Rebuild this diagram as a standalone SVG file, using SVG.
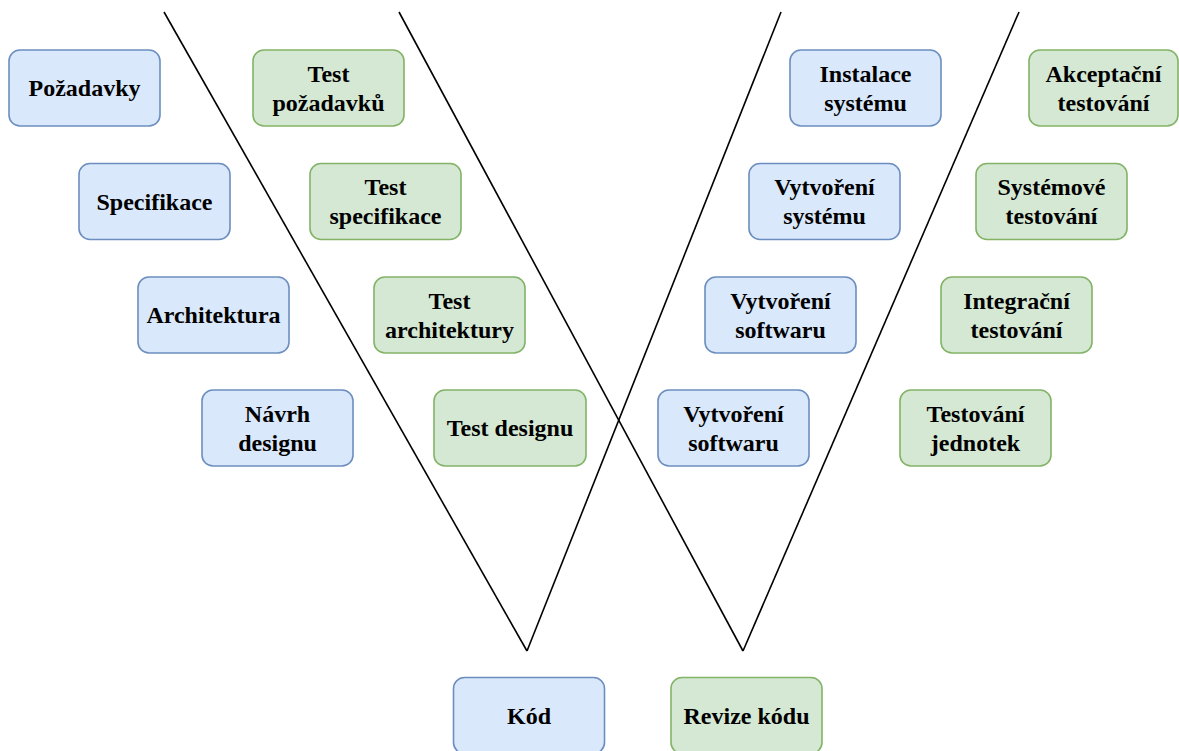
<svg xmlns="http://www.w3.org/2000/svg" width="1179" height="751" viewBox="0 0 1179 751">
<style>
.b rect{fill:#dae8fc;stroke:#6c8ebf;stroke-width:1.6}
.g rect{fill:#d5e8d4;stroke:#82b366;stroke-width:1.6}
text{font-family:"Liberation Serif","Times New Roman",serif;font-weight:bold;font-size:24px;text-anchor:middle;fill:#000}
.c line{stroke:#000;stroke-width:1.6}
</style>
<rect width="1179" height="751" fill="#fff"/>
<g class="c" id="connectors">
<line x1="164" y1="12" x2="527" y2="651"/>
<line x1="399" y1="12" x2="743" y2="651"/>
<line x1="781" y1="12" x2="527" y2="651"/>
<line x1="1019" y1="12" x2="743" y2="651"/>
</g>
<g id="pozadavky" class="b"><rect x="9" y="50" width="151" height="76" rx="11"/><text x="84.5" y="96">Požadavky</text></g>
<g id="specifikace" class="b"><rect x="79" y="163.5" width="151" height="76" rx="11"/><text x="154.5" y="209.5">Specifikace</text></g>
<g id="architektura" class="b"><rect x="138" y="277" width="151" height="76" rx="11"/><text x="213.5" y="323">Architektura</text></g>
<g id="navrh" class="b"><rect x="202" y="390" width="151" height="76" rx="11"/><text x="277.5" y="421.5">Návrh</text><text x="277.5" y="450.5">designu</text></g>
<g id="test-pozadavku" class="g"><rect x="253" y="50" width="151" height="76" rx="11"/><text x="328.5" y="81.5">Test</text><text x="328.5" y="110.5">požadavků</text></g>
<g id="test-specifikace" class="g"><rect x="310" y="163.5" width="151" height="76" rx="11"/><text x="385.5" y="195">Test</text><text x="385.5" y="224">specifikace</text></g>
<g id="test-architektury" class="g"><rect x="374" y="277" width="151" height="76" rx="11"/><text x="449.5" y="308.5">Test</text><text x="449.5" y="337.5">architektury</text></g>
<g id="test-designu" class="g"><rect x="434" y="390" width="152" height="76" rx="11"/><text x="510" y="436">Test designu</text></g>
<g id="kod" class="b"><rect x="453.5" y="677.5" width="151" height="76" rx="11"/><text x="529" y="723.5">Kód</text></g>
<g id="revize" class="g"><rect x="671" y="677.5" width="151" height="76" rx="11"/><text x="746.5" y="723.5">Revize kódu</text></g>
<g id="instalace" class="b"><rect x="790" y="50" width="151" height="76" rx="11"/><text x="865.5" y="81.5">Instalace</text><text x="865.5" y="110.5">systému</text></g>
<g id="vytvoreni-systemu" class="b"><rect x="749" y="163.5" width="151" height="76" rx="11"/><text x="824.5" y="195">Vytvoření</text><text x="824.5" y="224">systému</text></g>
<g id="vytvoreni-softwaru-1" class="b"><rect x="705" y="277" width="151" height="76" rx="11"/><text x="780.5" y="308.5">Vytvoření</text><text x="780.5" y="337.5">softwaru</text></g>
<g id="vytvoreni-softwaru-2" class="b"><rect x="658" y="390" width="151" height="76" rx="11"/><text x="733.5" y="421.5">Vytvoření</text><text x="733.5" y="450.5">softwaru</text></g>
<g id="akceptacni" class="g"><rect x="1029" y="50" width="149" height="76" rx="11"/><text x="1103.5" y="81.5">Akceptační</text><text x="1103.5" y="110.5">testování</text></g>
<g id="systemove" class="g"><rect x="976" y="163.5" width="151" height="76" rx="11"/><text x="1051.5" y="195">Systémové</text><text x="1051.5" y="224">testování</text></g>
<g id="integracni" class="g"><rect x="941" y="277" width="151" height="76" rx="11"/><text x="1016.5" y="308.5">Integrační</text><text x="1016.5" y="337.5">testování</text></g>
<g id="jednotky" class="g"><rect x="900" y="390" width="151" height="76" rx="11"/><text x="975.5" y="421.5">Testování</text><text x="975.5" y="450.5">jednotek</text></g>
</svg>
